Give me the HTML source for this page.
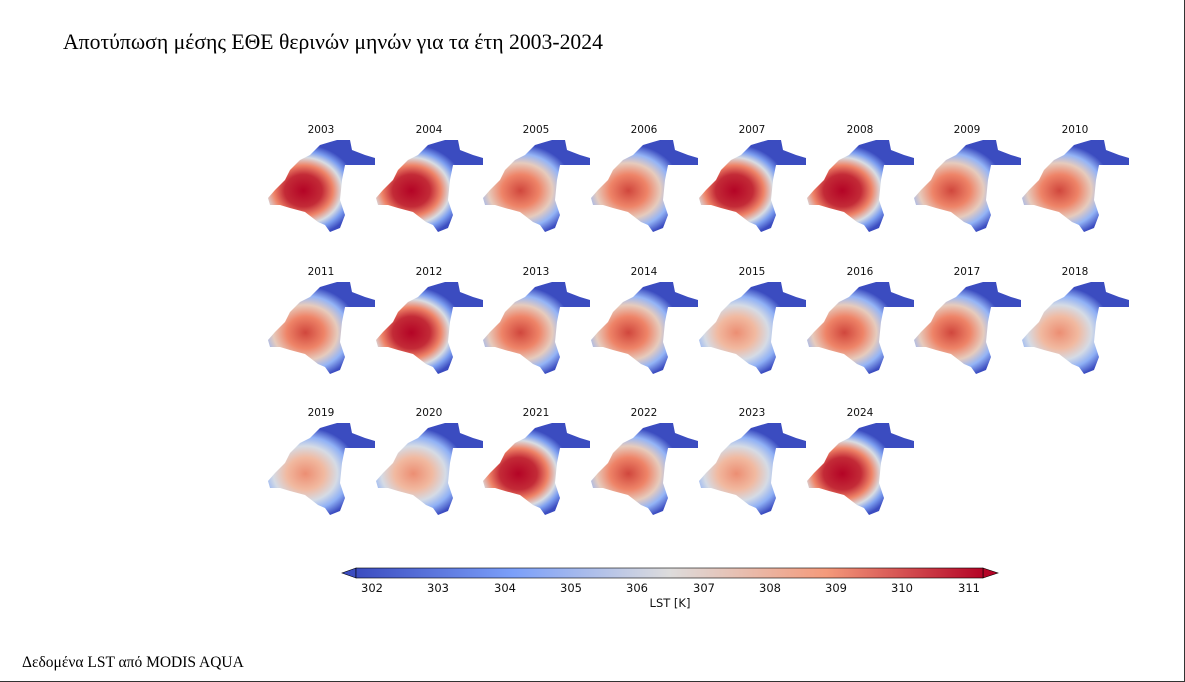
<!DOCTYPE html>
<html><head><meta charset="utf-8"><style>
body{margin:0;background:#fff;}
.wrap{position:relative;width:1185px;height:682px;overflow:hidden;background:#fff;border-right:1px solid #333;border-bottom:1px solid #333;box-sizing:border-box}
.title{position:absolute;left:63px;top:30px;font:21.7px "Liberation Serif",serif;color:#000}
.foot{position:absolute;left:22px;top:654px;font:15.5px "Liberation Serif",serif;color:#000}
</style></head><body><div class="wrap">
<div class="title">Αποτύπωση μέσης ΕΘΕ θερινών μηνών για τα έτη 2003-2024</div>
<svg width="1185" height="682" style="position:absolute;left:0;top:0" font-family="DejaVu Sans, Liberation Sans, sans-serif">
<defs>
<polygon id="shp" points="69,2 82,2 84,12 97,17 107,20 107,27 92,27 77,27 74,42 72,62 77,77 72,90 62,94 57,87 50,84 37,74 22,70 12,67 2,67 0,60 7,52 17,42 22,32 32,22 42,17 52,7 62,4"/>
<radialGradient id="hot" cx="0.33" cy="0.55" r="0.5"><stop offset="0" stop-color="#b40426"/><stop offset="0.35" stop-color="#c32b37"/><stop offset="0.55" stop-color="#ee8468"/><stop offset="0.72" stop-color="#d8dce2"/><stop offset="0.85" stop-color="#7d9ff0"/><stop offset="1" stop-color="#3b4cc0"/></radialGradient>
<radialGradient id="mid" cx="0.35" cy="0.55" r="0.5"><stop offset="0" stop-color="#d0473d"/><stop offset="0.35" stop-color="#ee8468"/><stop offset="0.6" stop-color="#e6cbbd"/><stop offset="0.8" stop-color="#94b4f6"/><stop offset="1" stop-color="#3b4cc0"/></radialGradient>
<radialGradient id="cool" cx="0.35" cy="0.55" r="0.5"><stop offset="0" stop-color="#ec8e73"/><stop offset="0.35" stop-color="#f1b9a0"/><stop offset="0.6" stop-color="#d5dbe5"/><stop offset="0.8" stop-color="#8fb0f5"/><stop offset="1" stop-color="#3b4cc0"/></radialGradient>
<linearGradient id="cb" x1="0" x2="1"><stop offset="0" stop-color="#3b4cc0"/><stop offset="0.25" stop-color="#7b9ff9"/><stop offset="0.5" stop-color="#dddcdc"/><stop offset="0.75" stop-color="#f49a7b"/><stop offset="1" stop-color="#b40426"/></linearGradient>
</defs>
<polygon points="356,568 342,573 356,578" fill="#3b4cc0" stroke="#000" stroke-width="0.6"/>
<polygon points="983,568 998,573 983,578" fill="#b40426" stroke="#000" stroke-width="0.6"/>
<rect x="356" y="568" width="627" height="10" fill="url(#cb)" stroke="#000" stroke-width="0.6"/>
<g font-size="11.5" text-anchor="middle" fill="#111">
<text x="372" y="592">302</text><text x="438" y="592">303</text><text x="505" y="592">304</text><text x="571" y="592">305</text><text x="637" y="592">306</text><text x="704" y="592">307</text><text x="770" y="592">308</text><text x="836" y="592">309</text><text x="902" y="592">310</text><text x="969" y="592">311</text>
<text x="670" y="607">LST [K]</text>
</g>
<g font-size="10.5" text-anchor="middle" fill="#111">
<text x="321" y="133">2003</text><text x="429" y="133">2004</text><text x="536" y="133">2005</text><text x="644" y="133">2006</text><text x="752" y="133">2007</text><text x="860" y="133">2008</text><text x="967" y="133">2009</text><text x="1075" y="133">2010</text>
<text x="321" y="275">2011</text><text x="429" y="275">2012</text><text x="536" y="275">2013</text><text x="644" y="275">2014</text><text x="752" y="275">2015</text><text x="860" y="275">2016</text><text x="967" y="275">2017</text><text x="1075" y="275">2018</text>
<text x="321" y="416">2019</text><text x="429" y="416">2020</text><text x="536" y="416">2021</text><text x="644" y="416">2022</text><text x="752" y="416">2023</text><text x="860" y="416">2024</text>
</g>
<g>
<use href="#shp" x="268" y="138" fill="url(#hot)"/><use href="#shp" x="376" y="138" fill="url(#hot)"/><use href="#shp" x="483" y="138" fill="url(#mid)"/><use href="#shp" x="591" y="138" fill="url(#mid)"/><use href="#shp" x="699" y="138" fill="url(#hot)"/><use href="#shp" x="807" y="138" fill="url(#hot)"/><use href="#shp" x="914" y="138" fill="url(#mid)"/><use href="#shp" x="1022" y="138" fill="url(#mid)"/>
<use href="#shp" x="268" y="280" fill="url(#mid)"/><use href="#shp" x="376" y="280" fill="url(#hot)"/><use href="#shp" x="483" y="280" fill="url(#mid)"/><use href="#shp" x="591" y="280" fill="url(#mid)"/><use href="#shp" x="699" y="280" fill="url(#cool)"/><use href="#shp" x="807" y="280" fill="url(#mid)"/><use href="#shp" x="914" y="280" fill="url(#mid)"/><use href="#shp" x="1022" y="280" fill="url(#cool)"/>
<use href="#shp" x="268" y="421" fill="url(#cool)"/><use href="#shp" x="376" y="421" fill="url(#cool)"/><use href="#shp" x="483" y="421" fill="url(#hot)"/><use href="#shp" x="591" y="421" fill="url(#mid)"/><use href="#shp" x="699" y="421" fill="url(#cool)"/><use href="#shp" x="807" y="421" fill="url(#hot)"/>
</g>
</svg>
<div class="foot">Δεδομένα LST από MODIS AQUA</div>
</div></body></html>
